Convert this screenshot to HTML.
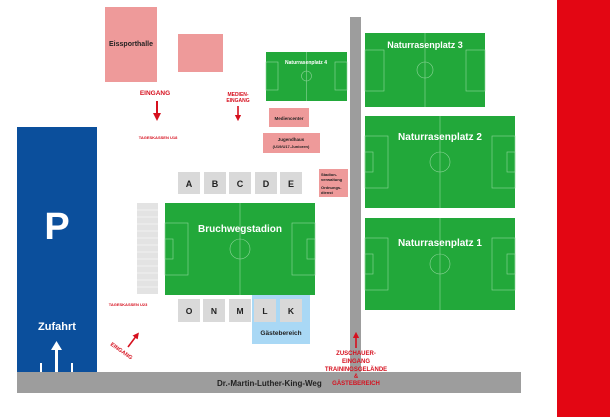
<!DOCTYPE html>
<html><head><meta charset="utf-8"><style>
html,body{margin:0;padding:0;background:#fff}
svg{display:block}
text{font-family:"Liberation Sans",sans-serif;font-weight:bold}
</style></head><body>
<svg width="610" height="417" viewBox="0 0 610 417" xmlns="http://www.w3.org/2000/svg">
<defs>
<marker id="ar" markerWidth="4" markerHeight="4" refX="2" refY="2" orient="auto" markerUnits="strokeWidth"><path d="M0,0 L4,2 L0,4 z" fill="#d6101e"/></marker>
</defs>
<rect x="557" y="0" width="53" height="417" fill="#e30613"/>
<!-- roads -->
<rect x="350" y="17" width="11" height="360" fill="#9d9d9d"/>
<rect x="17" y="372" width="504" height="21" fill="#9d9d9d"/>
<text x="217" y="386" font-size="8" fill="#222">Dr.-Martin-Luther-King-Weg</text>
<!-- parking -->
<rect x="17" y="127" width="80" height="245" fill="#0b4f9c"/>
<text x="57" y="239" font-size="38" fill="#fff" text-anchor="middle">P</text>
<text x="57" y="330" font-size="11" fill="#fff" text-anchor="middle">Zufahrt</text>
<rect x="55" y="350" width="3" height="22" fill="#fff"/><path d="M51,350 L56.5,341 L62,350 z" fill="#fff"/>
<rect x="40" y="363" width="2" height="9" fill="#fff"/><rect x="71" y="363" width="2" height="9" fill="#fff"/>
<!-- buildings -->
<rect x="105" y="7" width="52" height="75" fill="#ee9a9a"/>
<text x="131" y="46" font-size="7" fill="#222" text-anchor="middle">Eissporthalle</text>
<rect x="178" y="34" width="45" height="38" fill="#ee9a9a"/>
<rect x="269" y="108" width="40" height="19" fill="#ee9a9a"/>
<text x="289" y="120" font-size="4.5" fill="#222" text-anchor="middle">Mediencenter</text>
<rect x="263" y="133" width="57" height="20" fill="#ee9a9a"/>
<text x="291" y="141" font-size="4.5" fill="#222" text-anchor="middle">Jugendhaus</text>
<text x="291" y="148" font-size="4" fill="#222" text-anchor="middle">(U19/U17-Junioren)</text>
<rect x="319" y="169" width="29" height="28" fill="#ee9a9a"/>
<text x="321" y="176" font-size="4" fill="#222">Stadion-</text><text x="321" y="181" font-size="4" fill="#222">verwaltung</text>
<text x="321" y="189" font-size="4" fill="#222">Ordnungs-</text><text x="321" y="194" font-size="4" fill="#222">dienst</text>
<!-- entrances -->
<text x="155" y="95" font-size="6.5" fill="#d6101e" text-anchor="middle">EINGANG</text>
<line x1="157" y1="101" x2="157" y2="117" stroke="#d6101e" stroke-width="2" marker-end="url(#ar)"/>
<text x="158" y="139" font-size="4" fill="#d6101e" text-anchor="middle">TAGESKASSEN U18</text>
<text x="238" y="96" font-size="5" fill="#d6101e" text-anchor="middle">MEDIEN-</text>
<text x="238" y="102" font-size="5" fill="#d6101e" text-anchor="middle">EINGANG</text>
<line x1="238" y1="106" x2="238" y2="118" stroke="#d6101e" stroke-width="1.6" marker-end="url(#ar)"/>
<text x="128" y="306" font-size="4" fill="#d6101e" text-anchor="middle">TAGESKASSEN U23</text>
<line x1="128" y1="347" x2="137" y2="335" stroke="#d6101e" stroke-width="1.6" marker-end="url(#ar)"/>
<text x="110" y="345" font-size="5.5" fill="#d6101e" transform="rotate(35 110 345)">EINGANG</text>
<line x1="356" y1="348" x2="356" y2="335" stroke="#d6101e" stroke-width="1.6" marker-end="url(#ar)"/>
<g font-size="6" fill="#d6101e" text-anchor="middle">
<text x="356" y="355">ZUSCHAUER-</text><text x="356" y="363">EINGANG</text><text x="356" y="371">TRAININGSGELÄNDE</text><text x="356" y="378">&amp;</text><text x="356" y="385">GÄSTEBEREICH</text></g>
<!-- blocks -->
<g fill="#d9d9d9"><rect x="178" y="172" width="22" height="22"/><rect x="204" y="172" width="22" height="22"/><rect x="229" y="172" width="22" height="22"/><rect x="255" y="172" width="22" height="22"/><rect x="280" y="172" width="22" height="22"/></g>
<g font-size="9" fill="#222" text-anchor="middle"><text x="189" y="187">A</text><text x="215" y="187">B</text><text x="240" y="187">C</text><text x="266" y="187">D</text><text x="291" y="187">E</text></g>
<rect x="137" y="203" width="21" height="91" fill="#e3e3e3"/>
<g stroke="#fff" stroke-width="0.6"><line x1="137" y1="210" x2="158" y2="210"/><line x1="137" y1="217" x2="158" y2="217"/><line x1="137" y1="224" x2="158" y2="224"/><line x1="137" y1="231" x2="158" y2="231"/><line x1="137" y1="238" x2="158" y2="238"/><line x1="137" y1="245" x2="158" y2="245"/><line x1="137" y1="252" x2="158" y2="252"/><line x1="137" y1="259" x2="158" y2="259"/><line x1="137" y1="266" x2="158" y2="266"/><line x1="137" y1="273" x2="158" y2="273"/><line x1="137" y1="280" x2="158" y2="280"/><line x1="137" y1="287" x2="158" y2="287"/></g>
<rect x="252" y="295" width="58" height="49" fill="#a9d8f5"/>
<text x="281" y="335" font-size="6.5" fill="#222" text-anchor="middle">Gästebereich</text>
<g fill="#d9d9d9"><rect x="178" y="299" width="22" height="23"/><rect x="203" y="299" width="22" height="23"/><rect x="229" y="299" width="22" height="23"/><rect x="254" y="299" width="22" height="23"/><rect x="280" y="299" width="22" height="23"/></g>
<g font-size="8.5" fill="#222" text-anchor="middle"><text x="189" y="314">O</text><text x="214" y="314">N</text><text x="240" y="314">M</text><text x="265" y="314">L</text><text x="291" y="314">K</text></g>
<!-- fields -->
<g fill="#22a83a"><rect x="165" y="203" width="150" height="92"/><rect x="266" y="52" width="81" height="49"/><rect x="365" y="33" width="120" height="74"/><rect x="365" y="116" width="150" height="92"/><rect x="365" y="218" width="150" height="92"/></g>
<g fill="none" stroke="#8fd69b" stroke-width="0.6">
<line x1="240" y1="203" x2="240" y2="295"/><circle cx="240" cy="249" r="10"/><rect x="165" y="223" width="23" height="52"/><rect x="165" y="239" width="8" height="20"/><rect x="292" y="223" width="23" height="52"/><rect x="307" y="239" width="8" height="20"/>
<line x1="306.5" y1="52" x2="306.5" y2="101"/><circle cx="306.5" cy="76" r="5"/><rect x="266" y="62" width="12" height="28"/><rect x="335" y="62" width="12" height="28"/>
<line x1="425" y1="33" x2="425" y2="107"/><circle cx="425" cy="70" r="8"/><rect x="365" y="50" width="19" height="41"/><rect x="466" y="50" width="19" height="41"/>
<line x1="440" y1="116" x2="440" y2="208"/><circle cx="440" cy="162" r="10"/><rect x="365" y="136" width="23" height="52"/><rect x="365" y="152" width="8" height="20"/><rect x="492" y="136" width="23" height="52"/><rect x="507" y="152" width="8" height="20"/>
<line x1="440" y1="218" x2="440" y2="310"/><circle cx="440" cy="264" r="10"/><rect x="365" y="238" width="23" height="52"/><rect x="365" y="254" width="8" height="20"/><rect x="492" y="238" width="23" height="52"/><rect x="507" y="254" width="8" height="20"/>
</g>
<g font-size="10" fill="#fff" text-anchor="middle"><text x="240" y="232">Bruchwegstadion</text><text x="440" y="140">Naturrasenplatz 2</text><text x="440" y="246">Naturrasenplatz 1</text><text x="425" y="48" font-size="9">Naturrasenplatz 3</text><text x="306" y="64" font-size="5">Naturrasenplatz 4</text></g>
</svg>
</body></html>
